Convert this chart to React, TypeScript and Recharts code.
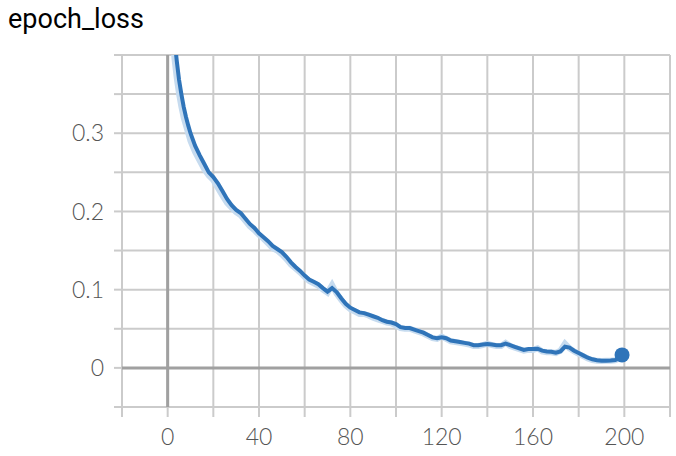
import React from "react";
import { LineChart, Line, XAxis, YAxis, CartesianGrid, ReferenceLine } from "recharts";

const epochs = [0,1,2,3,4,5,6,7,8,9,10,12,14,16,18,20,22,24,26,28,30,32,34,36,38,40,42,44,46,48,50,52,54,56,58,60,62,64,66,68,70,72,74,76,78,80,82,84,86,88,90,92,94,96,98,100,102,104,106,108,110,112,114,116,118,120,122,124,126,128,130,132,134,136,138,140,142,144,146,148,150,152,154,156,158,160,162,164,166,168,170,172,174,176,178,180,182,184,186,188,190,192,194,196,198,199];

const smoothed = [0.62,0.52,0.46,0.42,0.392,0.368,0.35,0.334,0.321,0.31,0.3,0.284,0.272,0.261,0.25,0.244,0.236,0.226,0.216,0.208,0.202,0.198,0.191,0.184,0.179,0.172,0.167,0.162,0.156,0.152,0.148,0.142,0.135,0.129,0.124,0.118,0.113,0.11,0.107,0.102,0.0975,0.102,0.097,0.089,0.082,0.077,0.074,0.071,0.07,0.068,0.066,0.064,0.061,0.059,0.058,0.056,0.052,0.051,0.051,0.049,0.047,0.045,0.042,0.039,0.038,0.039,0.038,0.035,0.034,0.033,0.032,0.031,0.029,0.029,0.03,0.0305,0.03,0.029,0.029,0.031,0.029,0.027,0.025,0.023,0.024,0.024,0.0245,0.022,0.021,0.0205,0.0195,0.021,0.027,0.026,0.022,0.019,0.016,0.013,0.011,0.0098,0.0092,0.0092,0.0094,0.01,0.0125,0.0166];

const raw = [0.6,0.49,0.43,0.395,0.37,0.35,0.334,0.32,0.31,0.3,0.29,0.276,0.265,0.254,0.246,0.24,0.23,0.22,0.211,0.205,0.199,0.195,0.188,0.181,0.176,0.17,0.165,0.159,0.153,0.15,0.145,0.139,0.132,0.127,0.122,0.116,0.111,0.108,0.105,0.1,0.096,0.106,0.095,0.087,0.08,0.075,0.072,0.069,0.069,0.067,0.064,0.062,0.06,0.058,0.057,0.054,0.051,0.05,0.05,0.048,0.046,0.044,0.041,0.038,0.037,0.04,0.037,0.034,0.033,0.032,0.031,0.03,0.028,0.028,0.029,0.031,0.029,0.028,0.028,0.032,0.028,0.026,0.024,0.022,0.023,0.023,0.025,0.021,0.02,0.02,0.019,0.022,0.031,0.025,0.021,0.018,0.015,0.012,0.01,0.009,0.0088,0.009,0.0092,0.0098,0.0122,0.0166];

const xTicks = [-20,0,20,40,60,80,100,120,140,160,180,200,220];
const xLabels = [0,40,80,120,160,200];
const yTicks = [-0.05,0,0.05,0.1,0.15,0.2,0.25,0.3,0.35,0.4];
const yLabels = [0,0.1,0.2,0.3];

const data = epochs.map((e, i) => ({ epoch: e, smoothed: smoothed[i], raw: raw[i] }));

const FONT = "Roboto, 'Noto Sans', sans-serif";
const TICK_FONT = "Lato, Roboto, sans-serif";
const LINE = "#2f74b9";

const XTick = (props: any) => {
  const { x, y, payload } = props;
  if (!xLabels.includes(payload.value)) return null;
  return (
    <text x={x} y={y} dy="0.71em" textAnchor="middle" fill="#555" fontSize={23} fontWeight={300} fontFamily={TICK_FONT}>
      {payload.value}
    </text>
  );
};

const YTick = (props: any) => {
  const { x, y, payload } = props;
  const v = Math.round(payload.value * 100) / 100;
  if (!yLabels.some((l) => Math.abs(l - v) < 1e-9)) return null;
  return (
    <text x={x} y={y} dy="0.355em" textAnchor="end" fill="#555" fontSize={23} fontWeight={300} fontFamily={TICK_FONT}>
      {v === 0 ? "0" : String(v)}
    </text>
  );
};

const EndDot = (props: any) => {
  const { cx, cy, index } = props;
  if (index !== data.length - 1) return <g key={index} />;
  return <circle key={index} cx={cx} cy={cy} r={7.5} fill={LINE} />;
};

export default function App() {
  return (
    <div style={{ position: "absolute", left: 0, top: 0, width: 676, height: 456, background: "#fff" }}>
      <div style={{ position: "absolute", left: 8, top: 2, fontFamily: FONT, fontSize: 27, lineHeight: "34px", color: "#000" }}>epoch_loss</div>
      <LineChart width={676} height={456} data={data} margin={{ top: 55, right: 6, bottom: 0, left: 0 }}>
        <CartesianGrid stroke="#cbcbcb" strokeWidth={2} />
        <XAxis
          dataKey="epoch"
          type="number"
          domain={[-20, 220]}
          ticks={xTicks}
          interval={0}
          height={49}
          axisLine={false}
          tickLine={{ stroke: "#cbcbcb", strokeWidth: 2 }}
          tickSize={10}
          tickMargin={12}
          tick={<XTick />}
        />
        <YAxis
          type="number"
          domain={[-0.05, 0.4]}
          ticks={yTicks}
          interval={0}
          width={122}
          axisLine={false}
          allowDataOverflow
          tickLine={{ stroke: "#cbcbcb", strokeWidth: 2 }}
          tickSize={8}
          tickMargin={10}
          tick={<YTick />}
        />
        <ReferenceLine x={0} stroke="#a0a0a0" strokeWidth={3} />
        <ReferenceLine y={0} stroke="#a0a0a0" strokeWidth={3} />
        <Line dataKey="raw" type="linear" stroke="#c6dbef" strokeWidth={6} dot={false} isAnimationActive={false} />
        <Line dataKey="smoothed" type="linear" stroke={LINE} strokeWidth={4} dot={<EndDot />} isAnimationActive={false} />
      </LineChart>
    </div>
  );
}
